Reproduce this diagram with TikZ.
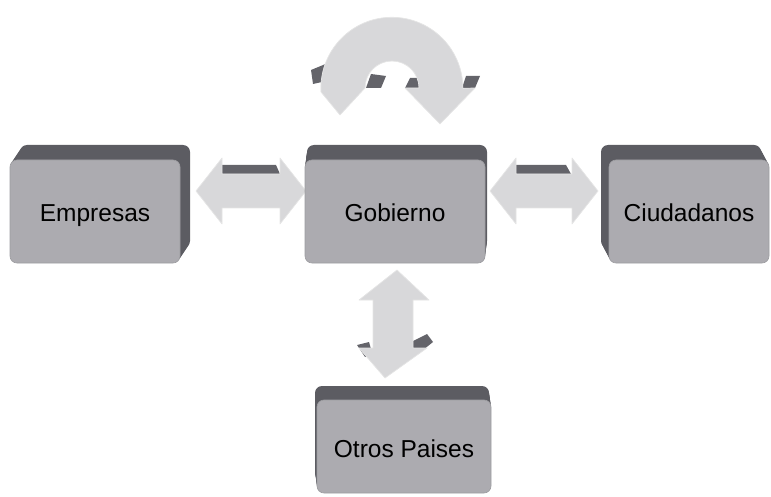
\documentclass[tikz,border=0pt]{standalone}
\usepackage{fontspec}
\setmainfont{Liberation Sans}
\usetikzlibrary{calc}

\definecolor{slabface}{RGB}{172,171,176}
\definecolor{slabedge}{RGB}{92,92,98}
\definecolor{arrowbody}{RGB}{216,216,218}
\definecolor{arrowside}{RGB}{100,100,106}

\tikzset{
  slab/.style={rounded corners=7pt, inner sep=0pt, text=black,
    font=\fontsize{24.5}{24.5}\selectfont, text height=24pt, text depth=3pt,
    fill=slabface, draw=slabedge!60, line width=0.6pt},
  slabback/.style={fill=slabedge, rounded corners=7pt},
  blockarrow/.style={fill=arrowbody, draw=white!80!gray, line width=0.7pt, line join=round},
  arrowfacet/.style={fill=arrowside},
}

% extruded box: name, centre, width, height, dx, dy of the back face, text
\newcommand\slabbox[7]{%
  \foreach \k in {1,...,10}{%
    \fill[slabback, shift={(\k*#5/10,\k*#6/10)}]
      ($(#2)+(-#3/2,-#4/2)$) rectangle ($(#2)+(#3/2,#4/2)$);
  }
  \node[slab, minimum width=#3pt, minimum height=#4pt] (#1) at (#2) {#7};
}

\begin{document}
\begin{tikzpicture}[x=1pt,y=-1pt]
  \useasboundingbox (0,0) rectangle (771,497);

  % ---- block arrows (behind the boxes) ----
  % Empresas <-> Gobierno
  \begin{scope}[shift={(251,191)}]
    \fill[arrowfacet] (-40,-17) -- (-33,-26) -- (25,-26) -- (29,-17) -- cycle;
    \draw[blockarrow] (-55,0) -- (-29,-33) -- (-29,-17) -- (29,-17) -- (29,-33)
      -- (55,0) -- (29,33) -- (29,17) -- (-29,17) -- (-29,33) -- cycle;
  \end{scope}
  % Gobierno <-> Ciudadanos
  \begin{scope}[shift={(544,191)}]
    \fill[arrowfacet] (-38,-17) -- (-31,-26) -- (22,-26) -- (27,-17) -- cycle;
    \draw[blockarrow] (-54,0) -- (-28,-33) -- (-28,-17) -- (28,-17) -- (28,-33)
      -- (54,0) -- (28,33) -- (28,17) -- (-28,17) -- (-28,33) -- cycle;
  \end{scope}
  % Gobierno <-> Otros Paises
  \begin{scope}[shift={(393,324)}]
    \fill[arrowfacet] (10,22) -- (34,10) -- (40,18) -- (30,26) -- cycle;
    \fill[arrowfacet] (-36,21) -- (-24,18) -- (-20,32) -- (-28,33) -- cycle;
    \draw[blockarrow] (4,-54) -- (36,-24) -- (20,-24) -- (20,24) -- (34,24)
      -- (-8,54) -- (-34,24) -- (-20,24) -- (-20,-24) -- (-34,-24) -- cycle;
  \end{scope}

  % ---- U-turn arrow above Gobierno ----
  \fill[arrowfacet] (313,84) -- (311,70) -- (328,63) -- (331,80) -- cycle;
  \fill[arrowfacet] (366,88) -- (371,74) -- (386,76) -- (381,88) -- cycle;
  \fill[arrowfacet] (405,88) -- (410,78) -- (421,78) -- (419,88) -- cycle;
  \fill[arrowfacet] (462,88) -- (466,76) -- (480,76) -- (475,88) -- cycle;
  \draw[blockarrow] (340,115) -- (321,92) arc[start angle=177, end angle=360, radius=71]
    -- (475,88) -- (440,124) -- (405,88) -- (419,88)
    arc[start angle=360, end angle=180, radius=27] -- cycle;

  % ---- boxes ----
  \slabbox{emp}{95,211.5}{170}{103}{10}{-15}{Empresas}
  \slabbox{gob}{395,211.5}{180}{103}{2}{-15}{Gobierno}
  \slabbox{ciu}{689,211.5}{160}{103}{-8}{-15}{Ciudadanos}
  \slabbox{otr}{404,446.5}{174}{93}{-2}{-14}{Otros Paises}
\end{tikzpicture}
\end{document}
